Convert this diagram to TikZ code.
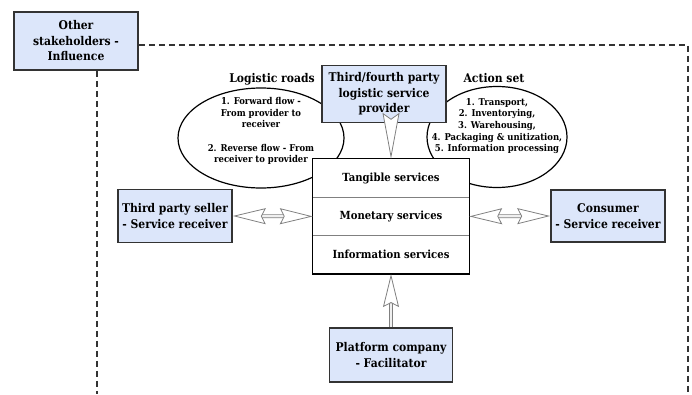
\documentclass[tikz,border=0pt]{standalone}
\usepackage{fontspec}
\setmainfont{DejaVu Serif Condensed}
\usetikzlibrary{arrows.meta,positioning,shapes.geometric}
\definecolor{boxblue}{HTML}{DCE6FA}
\definecolor{edgegray}{HTML}{333333}
\definecolor{shaftgray}{HTML}{808080}

\begin{document}
\begin{tikzpicture}[x=1pt,y=-1pt,
		actor/.style={draw=edgegray,line width=1.6pt,fill=boxblue,align=center,
			inner sep=2pt,font=\bfseries\fontsize{12}{15.5}\selectfont},
		cloud/.style={draw,ellipse,line width=1.2pt,inner sep=0pt},
		title/.style={font=\bfseries\fontsize{12}{15}\selectfont},
		small/.style={align=center,font=\bfseries\fontsize{9.4}{11.7}\selectfont},
		row/.style={minimum width=156pt,minimum height=38pt,inner sep=0pt,
			font=\bfseries\fontsize{11.2}{13}\selectfont},
		openhead/.tip={Stealth[open,inset=4pt,length=33pt,width=16pt,fill=white]},
		longhead/.tip={Stealth[open,inset=6pt,length=46pt,width=17pt,fill=white]},
		hollow/.style={draw=shaftgray,line width=0.8pt,double=gray!12,double distance=2.2pt},
		fence/.style={draw=edgegray,line width=1.4pt,dash pattern=on 6pt off 4pt}]
	
	\useasboundingbox (0,0) rectangle (692,394);
	
	% Influence frame
	\node[actor,minimum width=124pt,minimum height=58pt] (stake) at (76,41)
	{Other\\stakeholders -\\Influence};
	\coordinate (fenceNE) at (688,45);
	\coordinate (fenceSE) at (688,394);
	\coordinate (fenceSW) at (97,394);
	\draw[fence] ([yshift=-4pt]stake.east) -- (fenceNE) -- (fenceSE);
	\draw[fence] ([xshift=21pt]stake.south) -- (fenceSW);
	
	% Logistic roads and action set
	\node[cloud,minimum width=166pt,minimum height=100pt] (roads) at (261,138){};
	\node[small] (roadstext) at (261,131)
	{1. Forward flow -\\From provider to\\receiver\\[11.7pt]2. Reverse flow - From\\receiver to provider};
	\node[title] (roadstitle) at (272,79){Logistic roads};
	
	\node[cloud,minimum width=140pt,minimum height=101pt] (actions) at (497,137){};
	\node[small] (actionstext) at (497,126)
	{1. Transport,\\2. Inventorying,\\3. Warehousing,\\4. Packaging \& unitization,\\5. Information processing};
	\node[title] (actionstitle) at (494,78){Action set};
	
	% Services
	\node[row,fill=white] (tangible) at (391,178){Tangible services};
	\node[row,fill=white,below=0pt of tangible] (monetary){Monetary services};
	\node[row,fill=white,below=0pt of monetary] (information){Information services};
	\draw[gray,line width=0.5pt] (monetary.north west) -- (monetary.north east);
	\draw[gray,line width=0.5pt] (monetary.south west) -- (monetary.south east);
	\draw[line width=1.2pt] (tangible.north west) rectangle (information.south east);
	
	% Actors
	\node[actor,minimum width=124pt,minimum height=57pt] (provider) at (384,94)
	{Third/fourth party\\logistic service\\provider};
	\node[actor,minimum width=114pt,minimum height=53pt] (seller) at (175,216)
	{Third party seller\\- Service receiver};
	\node[actor,minimum width=114pt,minimum height=52pt] (consumer) at (608,216)
	{Consumer\\- Service receiver};
	\node[actor,minimum width=123pt,minimum height=54pt] (platform) at (391,355)
	{Platform company\\- Facilitator};
	
	\draw[hollow,-longhead] (provider.south -| tangible.north) -- (tangible.north);
	\draw[hollow,-openhead] (platform.north) -- (information.south);
	\draw[hollow,openhead-openhead] (seller.east) -- (monetary.west);
	\draw[hollow,openhead-openhead] (monetary.east) -- (consumer.west);
	
\end{tikzpicture}
\end{document}
